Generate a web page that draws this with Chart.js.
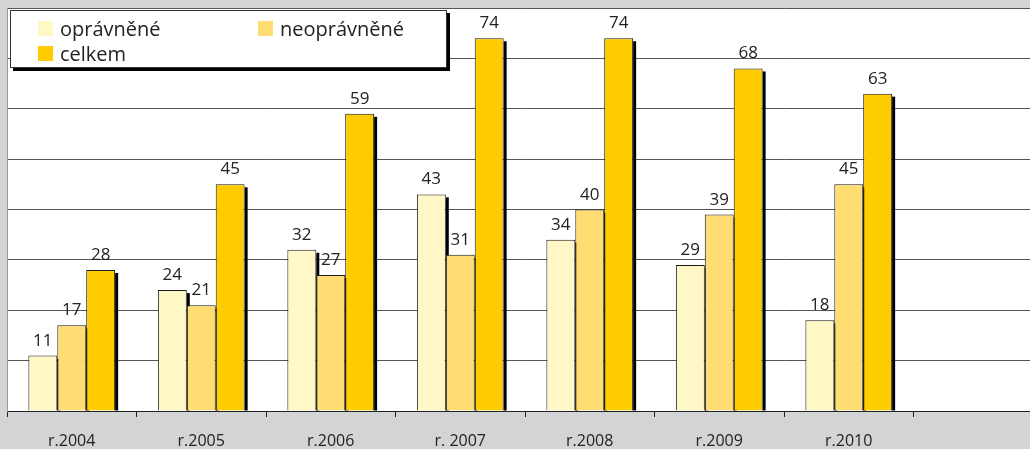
<!DOCTYPE html>
<html><head><meta charset="utf-8">
<script src="https://cdn.jsdelivr.net/npm/chart.js@4/dist/chart.umd.min.js"></script>
<style>
html,body{margin:0;padding:0;background:#d3d4d6;overflow:hidden;width:1030px;height:449px;}
#wrap{position:relative;width:1030px;height:449px;overflow:hidden;}
canvas{position:absolute;left:0;top:0;}
#legend{position:absolute;left:10px;top:10px;width:435px;height:56px;background:#fff;border:1px solid #333;box-shadow:3px 3px 0 #000;font-family:"Open Sans","Noto Sans",sans-serif;font-size:20px;color:#222;}
.it{position:absolute;display:flex;align-items:center;}
.sw{width:15px;height:15px;margin-right:7px;}
</style></head>
<body>
<div id="wrap">
<canvas id="c" width="1043" height="449" style="width:1043px;height:449px"></canvas>
<div id="legend"></div>
</div>
<script>
const categories = ["r.2004","r.2005","r.2006","r. 2007","r.2008","r.2009","r.2010",""];
const opravnene = [11,24,32,43,34,29,18];
const neopravnene = [17,21,27,31,40,39,45];
const celkem = [28,45,59,74,74,68,63];
const seriesNames = ["oprávněné","neoprávněné","celkem"];
const colors = ["#fff8c6","#ffdd73","#ffcc00"];

const lg = document.getElementById('legend');
const pos = [[27,4],[247,4],[27,29]];
seriesNames.forEach((n,i)=>{
  const d=document.createElement('div');d.className='it';
  d.style.left=pos[i][0]+'px';d.style.top=pos[i][1]+'px';
  d.innerHTML='<span class="sw" style="background:'+colors[i]+'"></span><span>'+n+'</span>';
  lg.appendChild(d);
});

const shadowPlugin = {
  id:'shadow',
  beforeDatasetsDraw(chart){
    const ctx=chart.ctx;ctx.save();ctx.fillStyle='#000';
    chart.data.datasets.forEach((ds,i)=>{
      chart.getDatasetMeta(i).data.forEach(b=>{
        const p=b.getProps(['x','y','base','width'],true);
        ctx.fillRect(p.x+p.width/2, p.y+3, 3, p.base-p.y-3);
      });
    });
    ctx.restore();
  }
};
const labelPlugin = {
  id:'vals',
  afterDatasetsDraw(chart){
    const ctx=chart.ctx;ctx.save();
    ctx.font='17px "Open Sans","Noto Sans",sans-serif';ctx.fillStyle='#222';
    ctx.textAlign='center';ctx.textBaseline='alphabetic';
    chart.data.datasets.forEach((ds,i)=>{
      chart.getDatasetMeta(i).data.forEach((b,j)=>{
        const p=b.getProps(['x','y'],true);
        ctx.fillText(String(ds.data[j]), p.x, p.y-10);
      });
    });
    ctx.restore();
  }
};
const bgPlugin = {
  id:'bg',
  beforeDraw(chart){
    const a=chart.chartArea,ctx=chart.ctx;
    ctx.save();ctx.fillStyle='#fff';ctx.fillRect(a.left,a.top,a.right-a.left,a.bottom-a.top);ctx.restore();
  }
};

new Chart(document.getElementById('c'),{
  type:'bar',
  data:{labels:categories,datasets:[
    {label:seriesNames[0],data:opravnene,backgroundColor:colors[0]},
    {label:seriesNames[1],data:neopravnene,backgroundColor:colors[1]},
    {label:seriesNames[2],data:celkem,backgroundColor:colors[2]}
  ].map(d=>Object.assign(d,{borderColor:'#1a1a1a',borderWidth:1,borderSkipped:'bottom',categoryPercentage:0.67,barPercentage:1}))},
  options:{
    responsive:false,animation:false,
    layout:{padding:{left:7,top:8,right:0,bottom:0}},
    plugins:{legend:{display:false},tooltip:{enabled:false}},
    scales:{
      x:{
        grid:{drawOnChartArea:false,drawTicks:true,tickLength:6,color:'#222',offset:true},
        border:{color:'#222',width:1},
        ticks:{color:'#222',font:{family:'"Open Sans","Noto Sans",sans-serif',size:16},padding:15},
        afterFit(s){s.height=38;}
      },
      y:{
        min:0,max:80,
        ticks:{display:false,stepSize:10},
        grid:{color:'#555',drawTicks:false},
        border:{color:'#999',width:1},
        afterFit(s){s.width=0;}
      }
    }
  },
  plugins:[bgPlugin,shadowPlugin,labelPlugin]
});
</script>
</body></html>
